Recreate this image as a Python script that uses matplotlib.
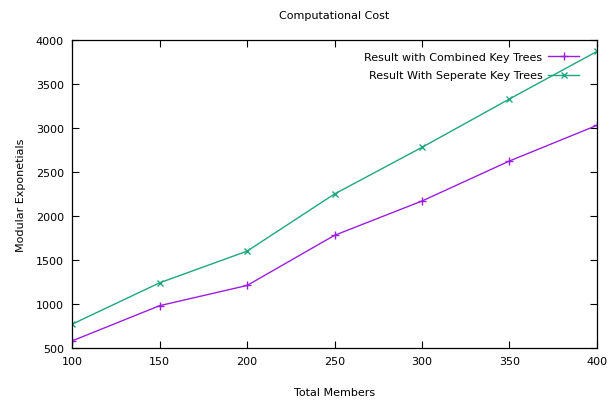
import numpy as np
import matplotlib
matplotlib.use('Agg')
import matplotlib.pyplot as plt

# data
members = [100, 150, 200, 250, 300, 350, 400]
combined = [580, 980, 1210, 1780, 2170, 2625, 3030]
separate = [770, 1240, 1600, 2250, 2780, 3330, 3870]

plt.rcParams['font.family'] = ['DejaVu Sans']
plt.rcParams['font.size'] = 8

fig = plt.figure(figsize=(6.11, 4.02), dpi=100)
ax = fig.add_axes([0.118, 0.132, 0.859, 0.766])

ax.plot(members, combined, color='#9b1fe0', marker='+', markersize=6, lw=1,
        label='Result with Combined Key Trees')
ax.plot(members, separate, color='#1fa77f', marker='x', markersize=5, lw=1,
        label='Result With Seperate Key Trees')

ax.set_xlim(100, 400)
ax.set_ylim(500, 4000)
ax.set_xticks(np.arange(100, 401, 50))
ax.set_yticks(np.arange(500, 4001, 500))
ax.tick_params(direction='in', top=True, right=True, length=5, width=0.8, pad=6)
for s in ax.spines.values():
    s.set_linewidth(0.9)

ax.set_title('Computational Cost', fontsize=8, pad=16)
ax.set_xlabel('Total Members', labelpad=15)
ax.set_ylabel('Modular Exponetials', labelpad=7)

leg = ax.legend(loc='upper right', bbox_to_anchor=(0.985, 0.995), frameon=False,
                markerfirst=False, handlelength=2.8, labelspacing=0.8,
                handletextpad=0.5)
for t in leg.get_texts():
    t.set_ha('right')

fig.savefig('out.png', dpi=100)
